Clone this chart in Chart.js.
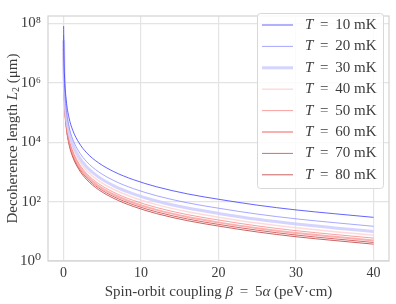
<!DOCTYPE html>
<html>
<head>
<meta charset="utf-8">
<script src="https://cdn.jsdelivr.net/npm/chart.js@4.4.1/dist/chart.umd.min.js"></script>
<style>
  html, body { margin: 0; padding: 0; background: #fff; }
  canvas { display: block; }
</style>
</head>
<body>
<canvas id="chart" width="396" height="304"></canvas>
<script>
// spin-orbit coupling beta (peV·cm)
var beta = [0.017, 0.05, 0.15, 0.35, 0.7, 1.2, 2, 3, 4.5, 6.5, 9, 12, 16, 20, 25, 30, 35, 40];

// decoherence length L2 (um), one array per temperature
var L_10mK = [8.1e7, 1.05e7, 1.32e6, 2.63e5, 6.9e4, 2.5e4, 9550, 4370, 2040, 1020, 550, 316, 182, 120, 76, 52.5, 39, 29.5];
var L_20mK = [4.05e7, 5.25e6, 6.6e5, 1.32e5, 3.45e4, 1.25e4, 4780, 2190, 1020, 510, 275, 158, 91, 60, 38, 26.3, 19.5, 14.75];
var L_30mK = [2.7e7, 3.5e6, 4.4e5, 8.8e4, 2.3e4, 8330, 3180, 1460, 680, 340, 183, 105, 60.7, 40, 25.3, 17.5, 13, 9.83];
var L_40mK = [2.03e7, 2.63e6, 3.3e5, 6.6e4, 1.73e4, 6250, 2390, 1090, 510, 255, 138, 79, 45.5, 30, 19, 13.1, 9.75, 7.38];
var L_50mK = [1.62e7, 2.1e6, 2.64e5, 5.26e4, 1.38e4, 5000, 1910, 874, 408, 204, 110, 63.2, 36.4, 24, 15.2, 10.5, 7.8, 5.9];
var L_60mK = [1.35e7, 1.75e6, 2.2e5, 4.38e4, 1.15e4, 4170, 1590, 728, 340, 170, 91.7, 52.7, 30.3, 20, 12.7, 8.75, 6.5, 4.92];
var L_70mK = [1.16e7, 1.5e6, 1.89e5, 3.76e4, 9860, 3570, 1360, 624, 291, 146, 78.6, 45.1, 26, 17.1, 10.9, 7.5, 5.57, 4.21];
var L_80mK = [1.01e7, 1.31e6, 1.65e5, 3.29e4, 8630, 3130, 1190, 546, 255, 128, 68.8, 39.5, 22.8, 15, 9.5, 6.56, 4.88, 3.69];

var temps = [10, 20, 30, 40, 50, 60, 70, 80];
var series = [L_10mK, L_20mK, L_30mK, L_40mK, L_50mK, L_60mK, L_70mK, L_80mK];

var xTicks = [0, 10, 20, 30, 40];
var yTicks = [1, 1e2, 1e4, 1e6, 1e8];
var yTickLabels = ['10\u2070', '10\u00b2', '10\u2074', '10\u2076', '10\u2078'];

// styling
var colors = [
    'rgba(60, 60, 255, 0.8)',
    'rgba(120, 120, 255, 0.65)',
    'rgba(205, 205, 255, 0.85)',
    'rgba(255, 212, 212, 0.85)',
    'rgba(245, 120, 120, 0.7)',
    'rgba(250, 150, 150, 0.75)',
    'rgba(205, 55, 55, 0.75)',
    'rgba(180, 30, 30, 0.7)'
];
var widths = [1, 1, 3, 1.5, 1, 2, 1, 1];

var serif = "'Liberation Serif', 'DejaVu Serif', serif";
var textColor = '#3c3c3c';
var gridColor = '#e4e4e4';
var eq = ' \u2009=\u2009 ';

// draw a line of text made of plain and italic pieces, centred on (x, y)
function drawRich(ctx, parts, x, y, size, rotate) {
    ctx.save();
    ctx.translate(x, y);
    if (rotate) ctx.rotate(-Math.PI / 2);
    var total = 0;
    parts.forEach(function (p) {
        ctx.font = (p.i ? 'italic ' : '') + (p.s || size) + 'px ' + serif;
        total += ctx.measureText(p.t).width;
    });
    var cx = -total / 2;
    ctx.fillStyle = textColor;
    ctx.textBaseline = 'middle';
    ctx.textAlign = 'left';
    parts.forEach(function (p) {
        ctx.font = (p.i ? 'italic ' : '') + (p.s || size) + 'px ' + serif;
        ctx.fillText(p.t, cx, p.dy || 0);
        cx += ctx.measureText(p.t).width;
    });
    ctx.restore();
    return total;
}

var decorations = {
    id: 'decorations',
    afterDraw: function (chart) {
        var ctx = chart.ctx;
        var a = chart.chartArea;

        // frame
        ctx.save();
        ctx.strokeStyle = '#d2d2d2';
        ctx.lineWidth = 1.2;
        ctx.strokeRect(a.left, a.top, a.right - a.left, a.bottom - a.top);
        ctx.restore();

        // axis titles
        drawRich(ctx, [
            { t: 'Spin-orbit coupling ' },
            { t: '\u03b2', i: true },
            { t: eq + '5' },
            { t: '\u03b1', i: true },
            { t: ' (peV\u00b7cm)' }
        ], (a.left + a.right) / 2, 292, 15, false);
        drawRich(ctx, [
            { t: 'Decoherence length ' },
            { t: 'L', i: true },
            { t: '2', s: 10, dy: 3 },
            { t: ' (\u03bcm)' }
        ], 13, (a.top + a.bottom) / 2, 15, true);

        // legend box inside the plot
        var bx = 257, by = 13, bw = 126, bh = 175;
        ctx.save();
        ctx.fillStyle = 'rgba(255,255,255,0.85)';
        ctx.strokeStyle = '#d8d8d8';
        ctx.lineWidth = 1;
        ctx.beginPath();
        ctx.roundRect(bx + 0.5, by + 0.5, bw, bh, 3);
        ctx.fill();
        ctx.stroke();
        chart.data.datasets.forEach(function (ds, i) {
            var ry = 25 + i * 21.4;
            ctx.strokeStyle = ds.borderColor;
            ctx.lineWidth = ds.borderWidth;
            ctx.beginPath();
            ctx.moveTo(262, ry);
            ctx.lineTo(293, ry);
            ctx.stroke();
        });
        ctx.restore();
        temps.forEach(function (t, i) {
            var ry = 25 + i * 21.4;
            var parts = [{ t: 'T', i: true }, { t: eq + t + ' mK' }];
            var w = 0;
            ctx.save();
            parts.forEach(function (p) {
                ctx.font = (p.i ? 'italic ' : '') + '15px ' + serif;
                w += ctx.measureText(p.t).width;
            });
            ctx.restore();
            drawRich(ctx, parts, 305 + w / 2, ry, 15, false);
        });
    }
};

var datasets = series.map(function (vals, i) {
    return {
        label: 'T = ' + temps[i] + ' mK',
        data: vals.map(function (v, j) { return { x: beta[j], y: v }; }),
        borderColor: colors[i],
        borderWidth: widths[i],
        pointRadius: 0,
        fill: false,
        cubicInterpolationMode: 'monotone'
    };
});

var chart = new Chart(document.getElementById('chart').getContext('2d'), {
    type: 'line',
    data: { datasets: datasets },
    options: {
        responsive: false,
        animation: false,
        layout: { padding: { top: 5, right: 7, left: 0, bottom: 0 } },
        plugins: { legend: { display: false }, tooltip: { enabled: false } },
        scales: {
            x: {
                type: 'linear',
                min: -2,
                max: 42,
                afterBuildTicks: function (s) { s.ticks = xTicks.map(function (v) { return { value: v }; }); },
                afterFit: function (s) { s.height = 43; },
                grid: { color: gridColor, lineWidth: 1.2, drawTicks: false },
                border: { display: false },
                ticks: { color: textColor, font: { family: serif, size: 14 }, padding: 4, maxRotation: 0 }
            },
            y: {
                type: 'logarithmic',
                min: 1,
                max: 1.78e8,
                afterBuildTicks: function (s) { s.ticks = yTicks.map(function (v) { return { value: v }; }); },
                afterFit: function (s) { s.width = 48; },
                grid: { color: gridColor, lineWidth: 1.2, drawTicks: false },
                border: { display: false },
                ticks: {
                    color: textColor,
                    font: { family: serif, size: 15 },
                    padding: 7,
                    callback: function (v) {
                        var k = yTicks.indexOf(v);
                        return k >= 0 ? yTickLabels[k] : '';
                    }
                }
            }
        }
    },
    plugins: [decorations]
});
</script>
</body>
</html>
